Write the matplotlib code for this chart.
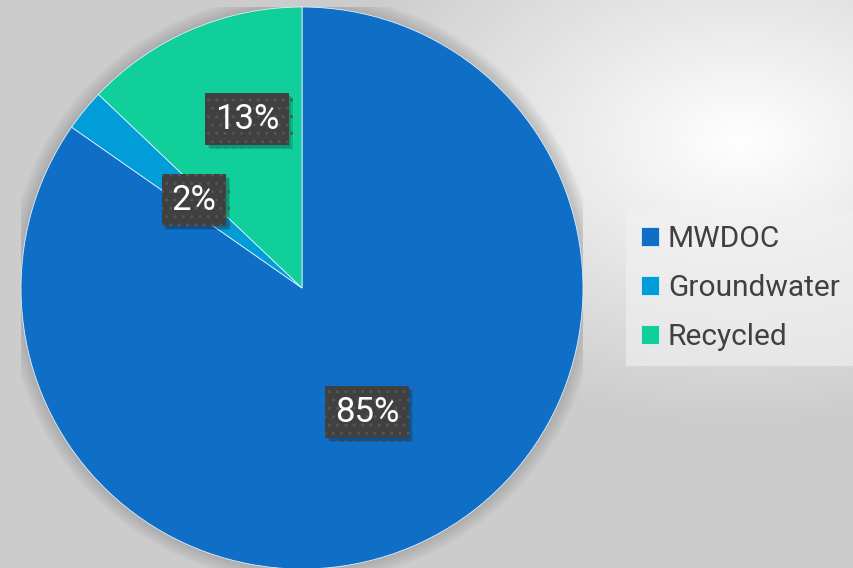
import numpy as np
import matplotlib
matplotlib.use("Agg")
import matplotlib.pyplot as plt
import matplotlib.patheffects as pe
from matplotlib.patches import Circle

sources = ["MWDOC", "Groundwater", "Recycled"]
shares = [84.7, 2.4, 12.9]
labels = ["85%", "2%", "13%"]
colors = ["#0F6FC6", "#009DD9", "#10CF9B"]

plt.rcParams['font.family'] = ['Roboto', 'DejaVu Sans']

fig = plt.figure(figsize=(8.54, 5.68), dpi=100)

# radial grey background, brightest up on the right
bg = fig.add_axes([0, 0, 1, 1])
yy, xx = np.mgrid[0:568, 0:854]
d = np.sqrt(((xx - 740) / 854.0) ** 2 + ((yy - 140) / 568.0) ** 2)
shade = np.clip(1.0 - 0.30 * d / 0.75, 0.80, 1.0)
bg.imshow(np.dstack([shade] * 3), extent=[0, 854, 568, 0], aspect="auto")
bg.set_axis_off()

# pie axes: centre (302, 288) px, radius 281 px
r = 281
ax = fig.add_axes([(302 - r) / 854, (280 - r) / 568, 2 * r / 854, 2 * r / 568])

# soft halo behind the pie
for k in range(10):
    ax.add_patch(Circle((0, 0), 1.0 + 0.005 * (k + 1), color="#808080",
                        alpha=0.045, lw=0, zorder=0))

wedges, _ = ax.pie(shares, colors=colors, startangle=90, counterclock=False,
                   radius=1.0, center=(0, 0), frame=True,
                   wedgeprops=dict(linewidth=0.6, edgecolor="#dfefff"))
ax.set_xlim(-1, 1)
ax.set_ylim(-1, 1)
ax.set_axis_off()

# data label boxes (pixel positions converted to axes coords)
label_px = [(367, 412), (194, 200), (247, 119)]
for lab, (px, py) in zip(labels, label_px):
    x = (px - 302) / r
    y = -(py - 288) / r
    t = ax.text(x, y, lab, ha="center", va="center", fontsize=25,
                color="white", zorder=5,
                bbox=dict(boxstyle="square,pad=0.27", facecolor="#404040",
                          edgecolor="#555555", hatch="..", linewidth=0))
    t.get_bbox_patch().set_path_effects([
        pe.SimplePatchShadow(offset=(3, -3), shadow_rgbFace="#000000", alpha=0.12),
        pe.SimplePatchShadow(offset=(2, -2), shadow_rgbFace="#000000", alpha=0.15),
        pe.Normal()])

leg = fig.legend(wedges, sources, loc="center left",
                 bbox_to_anchor=(626 / 854, 1 - 288 / 568),
                 fontsize=21.5, frameon=True, fancybox=False,
                 handlelength=0.6, handleheight=0.6, handletextpad=0.3,
                 labelspacing=0.7, borderpad=0.5, borderaxespad=0)
leg.get_frame().set_facecolor("#f2f2f2")
leg.get_frame().set_alpha(0.6)
leg.get_frame().set_linewidth(0)
for txt in leg.get_texts():
    txt.set_color("#404040")

fig.savefig("out.png", dpi=100)
